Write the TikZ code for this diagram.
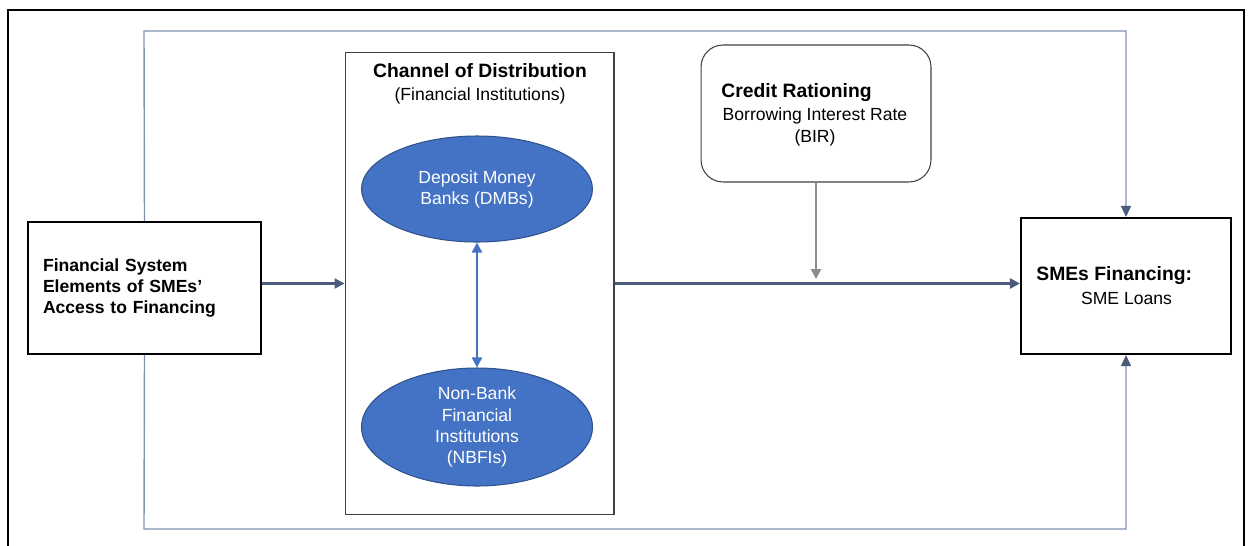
\documentclass[tikz,border=0pt]{standalone}
\usepackage{fontspec}
\setmainfont{Liberation Sans}
\usetikzlibrary{shapes.geometric,arrows.meta}
\definecolor{ellfill}{HTML}{4472C4}
\definecolor{elldraw}{HTML}{2F528F}
\definecolor{slate}{HTML}{4B5B7C}
\definecolor{loopc}{HTML}{8092B0}
\definecolor{grayarr}{HTML}{8C8C8C}
\definecolor{boxgray}{HTML}{404040}
\begin{document}
\begin{tikzpicture}[x=0.02cm,y=-0.02cm,
  every node/.style={font=\fontsize{10}{12}\selectfont},
  blackbox/.style={draw=black,line width=1.2pt,minimum width=4.66cm,minimum height=2.64cm,inner sep=0pt},
  ell/.style={ellipse,fill=ellfill,draw=elldraw,line width=0.6pt,text=white,align=center,minimum width=4.62cm,inner sep=0pt},
  tip/.style={-{Triangle[length=0.2cm,width=0.2cm]}},
  mainarr/.style={tip,draw=slate,line width=1.4pt},
  looparr/.style={-{Triangle[length=0.22cm,width=0.2cm,color=slate]},draw=loopc,line width=0.8pt},
  titlefont/.style={font=\fontsize{11}{13}\selectfont\bfseries}]
\useasboundingbox (0,0) rectangle (1250,545);
% outer frame
\draw[black,line width=1.1pt] (8,10) rectangle (1244,560);
% boxes
\node[blackbox,text width=4.06cm,align=left,inner xsep=0.3cm,font=\fontsize{10}{11.8}\selectfont\bfseries] (left) at (144.5,288) {Financial System\\Elements of SMEs’\\Access to Financing};
\node[draw=boxgray,line width=0.6pt,minimum width=5.38cm,minimum height=9.26cm,inner sep=0pt] (chan) at (479.5,283.5) {};
\node[align=center,inner sep=0pt] (chantitle) at (480,84) {{\fontsize{11}{13}\selectfont\bfseries Channel of Distribution}\\[1pt](Financial Institutions)};
\node[ell,minimum height=2.12cm] (dmb) at (477,189) {Deposit Money\\Banks (DMBs)};
\node[ell,minimum height=2.36cm] (nbfi) at (477,427) {Non-Bank\\Financial\\Institutions\\(NBFIs)};
\node[draw=boxgray,line width=0.6pt,rounded corners=0.44cm,minimum width=4.6cm,minimum height=2.74cm,inner sep=0pt] (credit) at (816,113.5) {};
\node[anchor=west,inner sep=0pt,titlefont] (crt) at (721,93) {Credit Rationing};
\node[inner sep=0pt,align=center] (crb) at (815,126.5) {Borrowing Interest Rate\\[0.5pt](BIR)};
\node[blackbox,minimum width=4.2cm,minimum height=2.72cm] (sme) at (1126,286) {};
\node[anchor=west,inner sep=0pt,titlefont] (smet) at (1036,276) {SMEs Financing:};
\node[inner sep=0pt] (smel) at (1126.5,298) {SME Loans};
% connectors
\draw[mainarr] (left.east |- chan.west) -- (chan.west);
\draw[mainarr] (chan.east) -- (chan.east -| sme.west);
\coordinate (cr) at (816,279);
\draw[tip,draw=grayarr,line width=1.5pt] (credit.south) -- (cr);
\draw[{Triangle[length=0.2cm,width=0.2cm]}-{Triangle[length=0.2cm,width=0.2cm]},draw=ellfill,line width=1.3pt] (dmb.south) -- (nbfi.north);
\coordinate (tl) at (144,31);
\coordinate (tr) at (1126,31);
\coordinate (bl) at (144,529);
\coordinate (br) at (1126,529);
\draw[looparr] (left.north) -- (tl) -- (tr) -- (sme.north);
\draw[looparr] (left.south) -- (bl) -- (br) -- (sme.south);
\end{tikzpicture}
\end{document}
